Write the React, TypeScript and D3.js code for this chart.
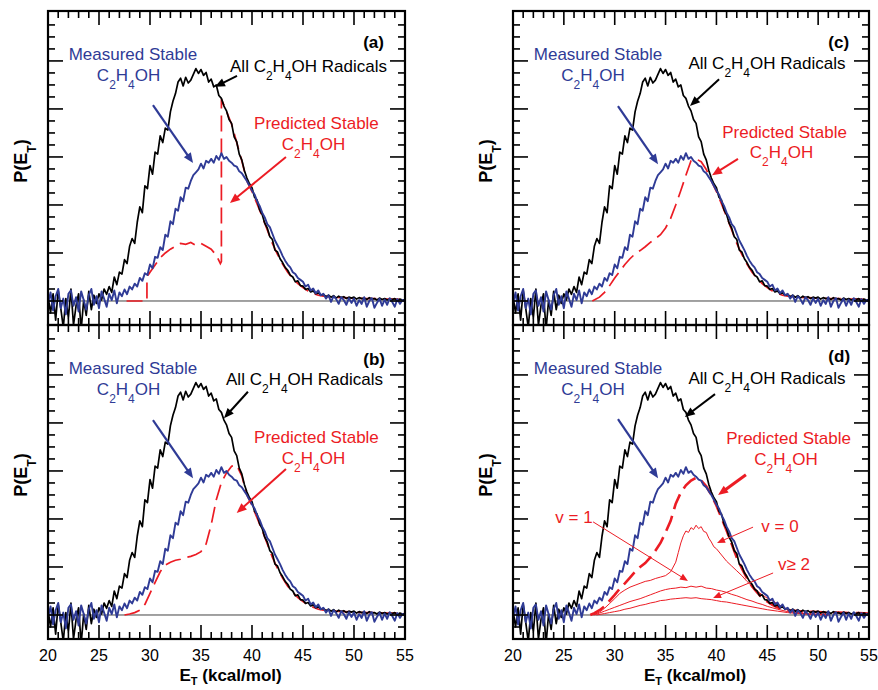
import React from 'react';
import * as d3 from 'd3';

const W = 878;
const H = 690;
const FONT = '"Liberation Sans", Arial, Helvetica, sans-serif';
const BLUE = '#2f3b96';
const RED = '#ec1c24';

const xDomain = [20, 55];
const yDomain = [-0.5, 6.04];
const PANEL_H = 314;

// measured traces on a 0.25 kcal/mol grid starting at 20
const energyStart = 20;
const energyStep = 0.25;

const blackAll = [
  0.10, -0.25, 0.15, -0.40, 0.22, -0.15, -0.55, 0.05, -0.35, 0.25, -0.50, -0.10, 0.15, -0.60, 0.02, -0.30, 0.20, -0.18, 0.12, -0.05,
  0.15, 0.02, 0.25, 0.14, 0.30, 0.18, 0.50, 0.34, 0.60, 0.56, 0.86, 0.78, 1.14, 1.30, 1.20, 1.64, 1.96, 1.84, 2.40, 2.34,
  2.82, 2.64, 3.10, 3.06, 3.44, 3.30, 3.60, 3.56, 3.94, 4.16, 4.32, 4.56, 4.64, 4.48, 4.66, 4.54, 4.60, 4.72, 4.84, 4.74,
  4.82, 4.70, 4.76, 4.56, 4.62, 4.46, 4.50, 4.28, 4.22, 4.06, 3.96, 3.78, 3.70, 3.42, 3.32, 3.06, 2.94, 2.72, 2.56, 2.44,
  2.36, 2.16, 2.10, 1.90, 1.80, 1.62, 1.52, 1.34, 1.28, 1.06, 1.02, 0.88, 0.80, 0.70, 0.64, 0.54, 0.50, 0.40, 0.42, 0.32,
  0.31, 0.24, 0.26, 0.19, 0.21, 0.15, 0.17, 0.12, 0.14, 0.09, 0.12, 0.08, 0.11, 0.06, 0.10, 0.07, 0.09, 0.05, 0.08, 0.06,
  0.08, 0.04, 0.07, 0.05, 0.06, 0.03, 0.07, 0.04, 0.05, 0.02, 0.06, 0.03, 0.05, 0.02, 0.04, 0.03, 0.05, 0.01, 0.04, 0.02,
  0.03,
];

const blueMeasured = [
  -0.05, 0.18, -0.20, 0.10, 0.25, -0.15, 0.05, -0.28, 0.15, 0.22, -0.10, 0.08, -0.22, 0.20, 0.02, -0.18, 0.12, 0.25, -0.08, 0.10,
  -0.15, 0.20, 0.05, -0.12, 0.15, 0.02, 0.22, -0.05, 0.18, 0.10, 0.24, 0.14, 0.30, 0.24, 0.36, 0.30, 0.48, 0.42, 0.58, 0.54,
  0.76, 0.68, 0.92, 0.90, 1.12, 1.06, 1.38, 1.34, 1.66, 1.60, 1.92, 1.88, 2.16, 2.08, 2.36, 2.34, 2.50, 2.62, 2.68, 2.74,
  2.86, 2.76, 2.92, 2.88, 2.96, 2.88, 3.02, 2.94, 3.08, 2.96, 3.00, 2.92, 2.88, 2.82, 2.80, 2.70, 2.66, 2.58, 2.50, 2.40,
  2.30, 2.22, 2.08, 1.98, 1.84, 1.74, 1.60, 1.54, 1.40, 1.26, 1.16, 1.06, 0.94, 0.84, 0.76, 0.70, 0.60, 0.56, 0.48, 0.44,
  0.40, 0.30, 0.34, 0.22, 0.26, 0.16, 0.22, 0.12, 0.15, 0.05, 0.12, -0.02, 0.10, 0.04, -0.06, 0.08, 0.02, -0.08, 0.06, -0.04,
  0.05, -0.10, 0.02, -0.06, 0.08, -0.12, 0.00, 0.06, -0.14, -0.04, 0.05, -0.10, 0.03, -0.08, 0.06, -0.02, -0.12, 0.04, -0.06, 0.02,
  0.00,
];

// predicted stable, [energy, P]
const predictedTail: [number, number][] = [
  [39.5, 2.5], [40, 2.28], [40.5, 2.02], [41, 1.76], [41.5, 1.48], [42, 1.2], [42.5, 0.97], [43, 0.77],
  [43.5, 0.6], [44, 0.47], [44.5, 0.36], [45, 0.28], [45.5, 0.21], [46, 0.16], [46.5, 0.12], [47, 0.1],
  [48, 0.08], [49, 0.07], [50, 0.06], [51, 0.05], [52, 0.05], [53, 0.04], [54, 0.04], [55, 0.03],
];

const predictedA: [number, number][] = [
  [27.7, 0], [29.7, 0], [29.7, 0.5], [30, 0.6], [30.5, 0.75], [31, 0.9], [31.5, 1.0], [32, 1.08], [32.5, 1.14],
  [33, 1.2], [33.5, 1.18], [34, 1.22], [34.5, 1.16], [35, 1.2], [35.5, 1.14], [36, 1.08], [36.5, 0.95],
  [36.9, 0.78], [37, 0.82], [37, 4.2], [37.5, 3.95], [38, 3.68], [38.5, 3.3], [39, 2.92],
];

const predictedB: [number, number][] = [
  [27.5, 0], [28, 0.02], [28.5, 0.05], [29, 0.1], [29.5, 0.22], [30, 0.45], [30.5, 0.68], [31, 0.9],
  [31.5, 1.04], [32, 1.1], [32.5, 1.14], [33, 1.16], [33.5, 1.2], [34, 1.22], [34.5, 1.26], [35, 1.32],
  [35.5, 1.48], [36, 1.88], [36.5, 2.4], [37, 2.76], [37.5, 2.96], [38, 3.1], [38.5, 3.12], [39, 2.9],
];

const predictedC: [number, number][] = [
  [27.8, 0], [28.5, 0.08], [29, 0.18], [29.5, 0.32], [30, 0.48], [30.5, 0.62], [31, 0.76], [31.5, 0.88],
  [32, 0.98], [32.5, 1.05], [33, 1.13], [33.5, 1.22], [34, 1.3], [34.5, 1.38], [35, 1.52], [35.5, 1.72],
  [36, 2.0], [36.5, 2.3], [37, 2.62], [37.5, 2.92], [38, 2.96], [38.5, 2.9], [39, 2.74],
];

const predictedD: [number, number][] = [
  [27.6, 0], [28, 0.04], [28.5, 0.1], [29, 0.18], [29.5, 0.3], [30, 0.42], [30.5, 0.55], [31, 0.66],
  [31.5, 0.78], [32, 0.9], [32.5, 1.0], [33, 1.08], [33.5, 1.2], [34, 1.34], [34.5, 1.5], [35, 1.72],
  [35.5, 1.96], [36, 2.32], [36.5, 2.55], [37, 2.7], [37.5, 2.8], [38, 2.86], [38.5, 2.8], [39, 2.68],
];

// vibrational components in panel (d)
const vib0: [number, number][] = [
  [27.9, 0], [28.5, 0.06], [29, 0.14], [29.5, 0.24], [30, 0.34], [30.5, 0.45], [31, 0.52], [31.5, 0.58],
  [32, 0.62], [32.5, 0.66], [33, 0.7], [33.5, 0.72], [34, 0.76], [34.5, 0.79], [35, 0.82], [35.5, 0.9],
  [36, 1.1], [36.25, 1.3], [36.5, 1.5], [36.75, 1.65], [37, 1.75], [37.25, 1.72], [37.5, 1.82], [37.75, 1.78],
  [38, 1.87], [38.25, 1.8], [38.5, 1.84], [38.75, 1.74], [39, 1.72], [39.25, 1.6], [39.5, 1.52], [39.75, 1.42],
  [40, 1.38], [40.5, 1.25], [41, 1.12], [41.5, 1.02], [42, 0.92], [42.5, 0.82], [43, 0.7], [43.5, 0.6],
  [44, 0.5], [44.5, 0.42], [45, 0.35], [45.5, 0.3], [46, 0.23], [46.5, 0.17], [47, 0.12], [47.5, 0.08],
  [48, 0.05], [49, 0.02], [50, 0.01], [51, 0],
];

const vib1: [number, number][] = [
  [28, 0], [28.5, 0.04], [29, 0.08], [29.5, 0.12], [30, 0.16], [30.5, 0.2], [31, 0.24], [31.5, 0.28],
  [32, 0.31], [32.5, 0.34], [33, 0.38], [33.5, 0.42], [34, 0.46], [34.5, 0.5], [35, 0.53], [35.5, 0.55],
  [36, 0.56], [36.5, 0.58], [37, 0.57], [37.5, 0.6], [38, 0.58], [38.5, 0.6], [39, 0.56], [39.5, 0.55],
  [40, 0.52], [40.5, 0.5], [41, 0.47], [41.5, 0.43], [42, 0.4], [42.5, 0.36], [43, 0.32], [43.5, 0.29],
  [44, 0.25], [44.5, 0.22], [45, 0.18], [45.5, 0.15], [46, 0.12], [47, 0.07], [48, 0.04], [49, 0.02],
  [50, 0.01], [51, 0],
];

const vib2: [number, number][] = [
  [28.2, 0], [29, 0.03], [29.5, 0.05], [30, 0.07], [30.5, 0.09], [31, 0.12], [31.5, 0.14], [32, 0.17],
  [32.5, 0.2], [33, 0.22], [33.5, 0.25], [34, 0.27], [34.5, 0.3], [35, 0.31], [35.5, 0.33], [36, 0.34],
  [36.5, 0.35], [37, 0.36], [37.5, 0.35], [38, 0.36], [38.5, 0.34], [39, 0.33], [39.5, 0.32], [40, 0.3],
  [40.5, 0.28], [41, 0.27], [41.5, 0.25], [42, 0.23], [42.5, 0.21], [43, 0.19], [43.5, 0.17], [44, 0.15],
  [44.5, 0.13], [45, 0.11], [46, 0.08], [47, 0.05], [48, 0.03], [49, 0.02], [50, 0.01], [51, 0],
];

const xMajorTicks = [25, 30, 35, 40, 45, 50];
const xTickLabels = [20, 25, 30, 35, 40, 45, 50, 55];
const yMajorTicks = [0, 1, 2, 3, 4, 5];

type Pt = [number, number];
type Part = [string, boolean];

const formulaParts: Part[] = [['C', false], ['2', true], ['H', false], ['4', true], ['OH', false]];
const allParts: Part[] = [['All C', false], ['2', true], ['H', false], ['4', true], ['OH Radicals', false]];

interface PanelDef {
  id: string;
  tag: string;
  left: number;
  top: number;
  width: number;
  bottom: boolean;
  predicted: Pt[];
  predWidth: number;
  measured: Pt;
  measuredF: Pt;
  all: Pt;
  pred: Pt;
  predF: Pt;
  tagAt: Pt;
  blueArrow: [Pt, Pt];
  blackArrow: [Pt, Pt];
  redArrow: [Pt, Pt];
  redArrowW: number;
  vib?: boolean;
}

const panels: PanelDef[] = [
  {
    id: 'a', tag: '(a)', left: 48, top: 11, width: 357, bottom: false,
    predicted: [...predictedA, ...predictedTail], predWidth: 1.7,
    measured: [28.33, 5.02], measuredF: [27.9, 4.58], all: [45.54, 4.77],
    pred: [46.32, 3.58], predF: [46.03, 3.15], tagAt: [52.94, 5.27],
    blueArrow: [[30.29, 4.08], [34.22, 2.875]],
    blackArrow: [[38.53, 4.69], [36.37, 4.46]],
    redArrow: [[43.33, 3.0], [37.84, 2.04]], redArrowW: 2,
  },
  {
    id: 'b', tag: '(b)', left: 48, top: 325, width: 357, bottom: true,
    predicted: [...predictedB, ...predictedTail], predWidth: 1.7,
    measured: [28.33, 5.02], measuredF: [27.9, 4.58], all: [45.15, 4.79],
    pred: [46.32, 3.58], predF: [46.03, 3.15], tagAt: [53.04, 5.21],
    blueArrow: [[30.29, 4.06], [34.22, 2.85]],
    blackArrow: [[39.6, 4.65], [37.25, 4.1]],
    redArrow: [[43.33, 3.04], [38.5, 2.125]], redArrowW: 2,
  },
  {
    id: 'c', tag: '(c)', left: 513, top: 11, width: 356, bottom: false,
    predicted: [...predictedC, ...predictedTail], predWidth: 1.7,
    measured: [28.36, 5.02], measuredF: [27.87, 4.58], all: [44.97, 4.83],
    pred: [46.7, 3.4], predF: [46.4, 2.98], tagAt: [53.04, 5.27],
    blueArrow: [[30.32, 4.06], [34.26, 2.85]],
    blackArrow: [[40.26, 4.62], [37.4, 4.06]],
    redArrow: [[42.12, 2.96], [39.57, 2.62]], redArrowW: 2,
  },
  {
    id: 'd', tag: '(d)', left: 513, top: 325, width: 356, bottom: true,
    predicted: [...predictedD, ...predictedTail], predWidth: 2.6,
    measured: [28.36, 5.02], measuredF: [27.87, 4.58], all: [44.97, 4.81],
    pred: [47.09, 3.56], predF: [46.84, 3.125], tagAt: [53.14, 5.27],
    blueArrow: [[30.32, 4.08], [34.26, 2.85]],
    blackArrow: [[39.86, 4.6], [36.9, 4.125]],
    redArrow: [[42.9, 2.92], [40.16, 2.5]], redArrowW: 3,
    vib: true,
  },
];

const Chem = ({ parts, ...rest }: { parts: Part[] } & React.SVGProps<SVGTextElement>) => {
  let prev = false;
  return (
    <text {...rest}>
      {parts.map(([s, sub], i) => {
        const dy = sub && !prev ? 8 : !sub && prev ? -8 : 0;
        prev = sub;
        return (
          <tspan key={i} dy={dy || undefined} fontSize={sub ? 12 : undefined}>{s}</tspan>
        );
      })}
    </text>
  );
};

const Arrow = ({ a, b, color, width, head }: { a: Pt; b: Pt; color: string; width: number; head: number }) => {
  const ang = Math.atan2(b[1] - a[1], b[0] - a[0]);
  const bx = b[0] - head * Math.cos(ang);
  const by = b[1] - head * Math.sin(ang);
  const hw = head * 0.42;
  const pts = [
    [b[0], b[1]],
    [bx + hw * Math.sin(ang), by - hw * Math.cos(ang)],
    [bx - hw * Math.sin(ang), by + hw * Math.cos(ang)],
  ];
  return (
    <g>
      <line x1={a[0]} y1={a[1]} x2={bx + Math.cos(ang)} y2={by + Math.sin(ang)} stroke={color} strokeWidth={width} />
      <polygon points={pts.map(p => p.join(',')).join(' ')} fill={color} />
    </g>
  );
};

const Panel = ({ p }: { p: PanelDef }) => {
  const x = d3.scaleLinear().domain(xDomain).range([p.left, p.left + p.width]);
  const y = d3.scaleLinear().domain(yDomain).range([p.top + PANEL_H, p.top]);
  const right = p.left + p.width;
  const bottom = p.top + PANEL_H;

  const traceLine = d3.line<number>()
    .x((_, i) => x(energyStart + i * energyStep))
    .y(d => y(d));
  const pairLine = d3.line<Pt>().x(d => x(d[0])).y(d => y(d[1]));
  const pt = (d: Pt): Pt => [x(d[0]), y(d[1])];

  const xMinor = d3.range(21, 55).filter(v => v % 5 !== 0);
  const yMinor = d3.range(-0.25, 5.9, 0.25).filter(v => Math.abs(v - Math.round(v)) > 0.01);
  const clipId = `clip-${p.id}`;
  const tickStroke = { stroke: '#000', strokeWidth: 1.6 };

  return (
    <g>
      <defs>
        <clipPath id={clipId}>
          <rect x={p.left} y={p.top} width={p.width} height={PANEL_H} />
        </clipPath>
      </defs>

      <g clipPath={`url(#${clipId})`}>
        <line x1={p.left} x2={right} y1={y(0)} y2={y(0)} stroke="#444" strokeWidth={1} />
        <path d={pairLine(p.predicted) || ''} fill="none" stroke={RED} strokeWidth={p.predWidth} strokeDasharray="16,7" />
        {p.vib && [vib0, vib1, vib2].map((v, i) => (
          <path key={i} d={pairLine(v) || ''} fill="none" stroke={RED} strokeWidth={1} />
        ))}
        <path d={traceLine(blackAll) || ''} fill="none" stroke="#000" strokeWidth={1.7} strokeLinejoin="round" />
        <path d={traceLine(blueMeasured) || ''} fill="none" stroke={BLUE} strokeWidth={1.9} strokeLinejoin="round" />
      </g>

      {/* ticks, inward on all sides */}
      {xMinor.map(v => (
        <g key={`xm${v}`}>
          <line x1={x(v)} x2={x(v)} y1={p.top} y2={p.top + 7} {...tickStroke} />
          <line x1={x(v)} x2={x(v)} y1={bottom} y2={bottom - 7} {...tickStroke} />
        </g>
      ))}
      {xMajorTicks.map(v => (
        <g key={`xM${v}`}>
          <line x1={x(v)} x2={x(v)} y1={p.top} y2={p.top + 14} {...tickStroke} />
          <line x1={x(v)} x2={x(v)} y1={bottom} y2={bottom - 14} {...tickStroke} />
        </g>
      ))}
      {yMinor.map(v => (
        <g key={`ym${v}`}>
          <line x1={p.left} x2={p.left + 7} y1={y(v)} y2={y(v)} {...tickStroke} />
          <line x1={right} x2={right - 7} y1={y(v)} y2={y(v)} {...tickStroke} />
        </g>
      ))}
      {yMajorTicks.map(v => (
        <g key={`yM${v}`}>
          <line x1={p.left} x2={p.left + 15} y1={y(v)} y2={y(v)} {...tickStroke} />
          <line x1={right} x2={right - 15} y1={y(v)} y2={y(v)} {...tickStroke} />
        </g>
      ))}
      <rect x={p.left} y={p.top} width={p.width} height={PANEL_H} fill="none" stroke="#000" strokeWidth={2.2} />

      {/* annotations */}
      <Arrow a={pt(p.blueArrow[0])} b={pt(p.blueArrow[1])} color={BLUE} width={2.2} head={10} />
      <Arrow a={pt(p.blackArrow[0])} b={pt(p.blackArrow[1])} color="#000" width={2} head={10} />
      <Arrow a={pt(p.redArrow[0])} b={pt(p.redArrow[1])} color={RED} width={p.redArrowW} head={10} />
      <text x={x(p.measured[0])} y={y(p.measured[1])} fill={BLUE} fontSize={17} textAnchor="middle">Measured Stable</text>
      <Chem parts={formulaParts} x={x(p.measuredF[0])} y={y(p.measuredF[1])} fill={BLUE} fontSize={17} textAnchor="middle" />
      <Chem parts={allParts} x={x(p.all[0])} y={y(p.all[1])} fill="#000" fontSize={17} textAnchor="middle" />
      <text x={x(p.pred[0])} y={y(p.pred[1])} fill={RED} fontSize={17} textAnchor="middle">Predicted Stable</text>
      <Chem parts={formulaParts} x={x(p.predF[0])} y={y(p.predF[1])} fill={RED} fontSize={17} textAnchor="middle" />
      <text x={x(p.tagAt[0])} y={y(p.tagAt[1])} fontSize={17} fontWeight="bold" textAnchor="end">{p.tag}</text>

      {p.vib && (
        <g>
          <Arrow a={pt([27.87, 1.94])} b={pt([37.2, 0.71])} color={RED} width={1} head={8} />
          <Arrow a={pt([43.6, 1.83])} b={pt([40.06, 1.5])} color={RED} width={1} head={8} />
          <Arrow a={pt([45.57, 0.875])} b={pt([39.67, 0.354])} color={RED} width={1} head={8} />
          <text x={x(26.0)} y={y(1.92)} fill={RED} fontSize={17} textAnchor="middle">v = 1</text>
          <text x={x(46.25)} y={y(1.73)} fill={RED} fontSize={17} textAnchor="middle">v = 0</text>
          <text x={x(47.62)} y={y(0.94)} fill={RED} fontSize={17} textAnchor="middle">v≥ 2</text>
        </g>
      )}

      {/* y axis title */}
      <text transform={`translate(${p.left - 21},${p.top + 150}) rotate(-90)`} fontSize={18} fontWeight="bold" textAnchor="middle">
        P(E<tspan dy={9} fontSize={12}>T</tspan><tspan dy={-9}>)</tspan>
      </text>

      {p.bottom && (
        <g>
          {xTickLabels.map(v => (
            <text key={v} x={x(v)} y={bottom + 22} fontSize={16} textAnchor="middle">{v}</text>
          ))}
          <text x={x(38) - 1} y={bottom + 42} fontSize={17} fontWeight="bold" textAnchor="middle">
            E<tspan dy={4} fontSize={11}>T</tspan><tspan dy={-4}> (kcal/mol)</tspan>
          </text>
        </g>
      )}
    </g>
  );
};

export default function App() {
  return (
    <svg width={W} height={H} style={{ position: 'absolute', left: 0, top: 0, background: '#fff' }} fontFamily={FONT}>
      {panels.map(p => <Panel key={p.id} p={p} />)}
    </svg>
  );
}
